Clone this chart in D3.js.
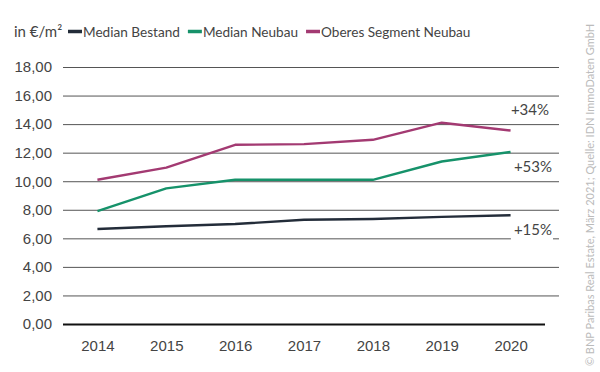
<!DOCTYPE html>
<html>
<head>
<meta charset="utf-8">
<script src="https://cdn.jsdelivr.net/npm/d3@7"></script>
<style>
  body { margin: 0; background: #fff; }
  svg { font-family: Lato, "Open Sans", sans-serif; }
</style>
</head>
<body>
<div id="chart"></div>
<script>
const years = ["2014", "2015", "2016", "2017", "2018", "2019", "2020"];
const bestand = [6.65, 6.85, 7.0, 7.3, 7.35, 7.5, 7.62];
const neubau = [7.9, 9.5, 10.1, 10.1, 10.1, 11.38, 12.05];
const oberes = [10.1, 10.95, 12.55, 12.6, 12.9, 14.1, 13.55];
const yTicks = [0, 2, 4, 6, 8, 10, 12, 14, 16, 18];
const seriesNames = ["Median Bestand", "Median Neubau", "Oberes Segment Neubau"];
const changeLabels = ["+15%", "+53%", "+34%"];

const colors = ["#232c39", "#16926a", "#a33a72"];
const width = 600, height = 372;
const margin = { top: 67, right: 55, bottom: 48, left: 63 };

const svg = d3.select("#chart").append("svg")
  .attr("width", width)
  .attr("height", height);

const x = d3.scalePoint()
  .domain(years)
  .range([margin.left, width - margin.right])
  .padding(0.5);

const y = d3.scaleLinear()
  .domain([0, 18])
  .range([height - margin.bottom, margin.top]);

// gridlines + y labels
const gridRight = 559;
const yAxis = svg.append("g")
  .attr("transform", `translate(${margin.left},0)`)
  .call(d3.axisLeft(y)
    .tickValues(yTicks)
    .tickSize(-(gridRight - margin.left))
    .tickPadding(11)
    .tickFormat(d => d3.format(".2f")(d).replace(".", ",")));
yAxis.select(".domain").remove();
yAxis.selectAll(".tick line").attr("stroke", "#555").attr("stroke-width", 1);
yAxis.selectAll(".tick text").attr("fill", "#444").attr("font-size", 15);
yAxis.selectAll(".tick").filter(d => d === 0).select("line")
  .attr("x2", width - margin.right - margin.left)
  .attr("stroke", "#111").attr("stroke-width", 2);

// x labels
const xAxis = svg.append("g")
  .attr("transform", `translate(0,${height - margin.bottom})`)
  .call(d3.axisBottom(x).tickSize(0).tickPadding(16));
xAxis.select(".domain").remove();
xAxis.selectAll(".tick text").attr("fill", "#444").attr("font-size", 15);

// lines
const series = [bestand, neubau, oberes];
const line = d3.line()
  .x((d, i) => x(years[i]))
  .y(d => y(d));

series.forEach((s, i) => {
  svg.append("path")
    .datum(s)
    .attr("fill", "none")
    .attr("stroke", colors[i])
    .attr("stroke-width", 2.4)
    .attr("stroke-linejoin", "round")
    .attr("d", line);
});

// change labels (the lowest one masks its gridline)
const labelPos = [
  { v: 6.47, x: 552 },
  { v: 10.9, x: 552 },
  { v: 14.9, x: 549 }
];
changeLabels.forEach((t, i) => {
  const g = svg.append("g");
  const txt = g.append("text")
    .attr("x", labelPos[i].x)
    .attr("y", y(labelPos[i].v))
    .attr("text-anchor", "end")
    .attr("dominant-baseline", "middle")
    .attr("fill", "#444")
    .attr("font-size", 15)
    .text(t);
  if (i === 0) {
    const bb = txt.node().getBBox();
    g.insert("rect", "text")
      .attr("x", bb.x - 3).attr("y", bb.y)
      .attr("width", bb.width + 4).attr("height", bb.height + 2)
      .attr("fill", "#fff");
  }
});

// legend
svg.append("text")
  .attr("x", 14).attr("y", 37)
  .attr("fill", "#444").attr("font-size", 15)
  .text("in €/m²");

let lx = 68;
seriesNames.forEach((n, i) => {
  svg.append("line")
    .attr("x1", lx).attr("x2", lx + 14)
    .attr("y1", 31.5).attr("y2", 31.5)
    .attr("stroke", colors[i]).attr("stroke-width", 3.5);
  const t = svg.append("text")
    .attr("x", lx + 15).attr("y", 37)
    .attr("fill", "#444").attr("font-size", 13.6)
    .text(n);
  lx += 15 + t.node().getComputedTextLength() + 8;
});

// source
svg.append("text")
  .attr("transform", "translate(594,195) rotate(-90)")
  .attr("text-anchor", "middle")
  .attr("fill", "#bbb")
  .attr("font-size", 11)
  .text("© BNP Paribas Real Estate, März 2021; Quelle: IDN ImmoDaten GmbH");
</script>
</body>
</html>
